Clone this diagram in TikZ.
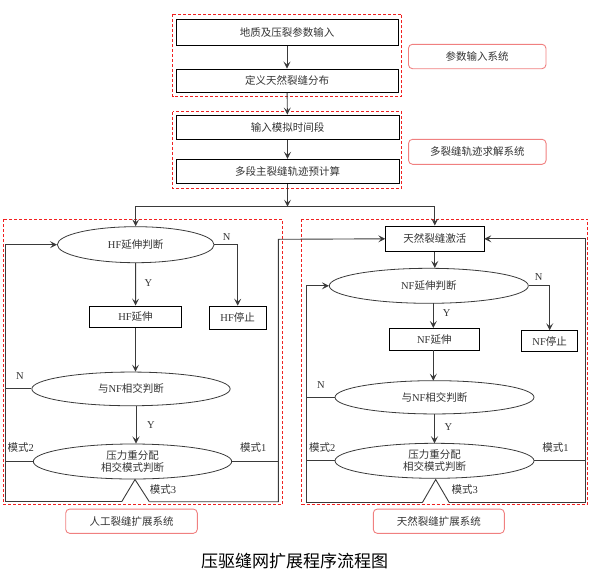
\documentclass[tikz,border=0pt]{standalone}
\usepackage{fontspec}
\setmainfont{Liberation Serif}
\newfontfamily\cjk{Noto Sans CJK SC}
\usetikzlibrary{arrows.meta,calc,shapes.geometric}
\definecolor{txt}{HTML}{333333}
\definecolor{ln}{HTML}{3A3A3A}
\definecolor{redd}{HTML}{F02020}
\definecolor{pinkb}{HTML}{F08080}
\tikzset{
  fnt/.style={font=\fontsize{10.5}{12.5}\selectfont},
  boxn/.style={draw=black, line width=1pt, rectangle, inner sep=0pt, text=txt, fnt},
  elln/.style={draw=ln, line width=0.8pt, ellipse, inner sep=0pt, text=txt, fnt, align=center},
  labn/.style={draw=pinkb, line width=0.9pt, rounded corners=4pt, rectangle, inner sep=0pt, text=txt, fnt},
  sysbox/.style={draw=redd, line width=0.9pt, dash pattern=on 3pt off 2pt},
  arr/.style={draw=ln, line width=0.9pt, -{Stealth[length=7pt,width=7pt,inset=3pt]}},
  ln/.style={draw=ln, line width=0.9pt},
  yn/.style={text=txt, fnt, inner sep=0pt}
}
\begin{document}
\begin{tikzpicture}[x=1pt,y=-1pt]
\useasboundingbox (0,0) rectangle (591,573);
% system frames
\draw[sysbox] (172.7,14) rectangle (401.7,96.7);
\draw[sysbox] (172.7,111.7) rectangle (401.7,188.3);
\draw[sysbox] (3.3,219.3) rectangle (282.7,504.3);
\draw[sysbox] (301.7,219.3) rectangle (587.7,504.3);
% top boxes
\node[boxn, minimum width=222pt, minimum height=26pt] (b1) at (287,32.3) {\cjk 地质及压裂参数输入};
\node[boxn, minimum width=222pt, minimum height=23.3pt] (b2) at (287,80.7) {\cjk 定义天然裂缝分布};
\node[boxn, minimum width=223pt, minimum height=24.3pt] (b3) at (287.5,127.2) {\cjk 输入模拟时间段};
\node[boxn, minimum width=223pt, minimum height=24pt] (b4) at (287.5,171.3) {\cjk 多段主裂缝轨迹预计算};
% label boxes
\node[labn, minimum width=137.5pt, minimum height=24.4pt] (l1) at (477.2,56.5) {\cjk 参数输入系统};
\node[labn, minimum width=137.5pt, minimum height=25pt] (l2) at (477.3,151.8) {\cjk 多裂缝轨迹求解系统};
\node[labn, minimum width=131.6pt, minimum height=24.3pt] (l3) at (131.5,521.2) {\cjk 人工裂缝扩展系统};
\node[labn, minimum width=131pt, minimum height=24.3pt] (l4) at (438.8,521.2) {\cjk 天然裂缝扩展系统};
% left system
\node[elln, minimum width=156.7pt, minimum height=36pt] (e1) at (135.7,244.7) {HF{\cjk 延伸判断}};
\node[boxn, line width=0.8pt, minimum width=92.4pt, minimum height=21.7pt] (hfe) at (135.5,316.8) {HF{\cjk 延伸}};
\node[boxn, line width=0.8pt, minimum width=56.7pt, minimum height=23.3pt] (hfs) at (237.7,317.7) {HF{\cjk 停止}};
\node[elln, minimum width=198.3pt, minimum height=33.7pt] (e2) at (131,388.9) {{\cjk 与}NF{\cjk 相交判断}};
\node[elln, minimum width=198.4pt, minimum height=35pt, font=\cjk\fontsize{10.5}{12.3}\selectfont] (e3) at (132.5,461.5) {压力重分配\\相交模式判断};
% right system
\node[boxn, line width=0.8pt, minimum width=98.3pt, minimum height=25.7pt] (na) at (434.8,238.8) {\cjk 天然裂缝激活};
\node[elln, minimum width=199pt, minimum height=35pt] (n1) at (428.8,285.8) {NF{\cjk 延伸判断}};
\node[boxn, line width=0.8pt, minimum width=90pt, minimum height=21.7pt] (nfe) at (434.3,339.2) {NF{\cjk 延伸}};
\node[boxn, line width=0.8pt, minimum width=56pt, minimum height=21pt] (nfs) at (549.7,341.2) {NF{\cjk 停止}};
\node[elln, minimum width=199pt, minimum height=33.3pt] (n2) at (434.5,397.3) {{\cjk 与}NF{\cjk 相交判断}};
\node[elln, minimum width=199pt, minimum height=35pt, font=\cjk\fontsize{10.5}{12.3}\selectfont] (n3) at (434.5,460.8) {压力重分配\\相交模式判断};
% caption
\node[text=black, font=\cjk\fontsize{17}{20}\selectfont, inner sep=0pt] (cap) at (294.7,561.5) {压驱缝网扩展程序流程图};
% top connectors
\draw[arr] (b1) -- (b2);
\draw[arr] (b2) -- (b3);
\draw[arr] (b3) -- (b4);
\coordinate (sp) at (287.5,206.7);
\draw[arr] (b4) -- (sp);
\draw[arr] (sp) -| (e1.north);
\draw[arr] (sp) -| (na.north);
% left system connectors
\draw[arr] (e1) -- (hfe);
\draw[arr] (e1.east) -| (hfs.north);
\draw[arr] (hfe.south) -- (hfe.south |- e2.north);
\draw[arr] (e2.south -| 136,0) -- (136,443.5);
\coordinate (lL) at (5,501.7);
\coordinate (lR) at (278.3,501.7);
\coordinate (tA) at (135,479.5);
\coordinate (tL) at (121.7,501.7);
\coordinate (tR) at (149.3,501.7);
\draw[ln] (tL) -- (tA) -- (tR);
\draw[arr] (tL) -- (lL) -- (lL |- e1.west) -- (e1.west);
\draw[arr] (tR) -- (lR) -- (278.3,239.3) -- (na.west);
\draw[ln] (e2.west) -- (e2.west -| lL);
\draw[ln] (e3.west) -- (e3.west -| lL);
\draw[ln] (e3.east) -- (e3.east -| lR);
% right system connectors
\draw[arr] (na.south) -- (na.south |- n1.north);
\draw[arr] (433.3,303.3) -- (nfe.north -| 433.3,0);
\draw[arr] (n1.east) -| (nfs.north);
\draw[arr] (nfe.south -| 433.3,0) -- (433.3,380.7);
\draw[arr] (434.5,414) -- (434.5,443.3);
\coordinate (rL) at (306,502.7);
\coordinate (rR) at (585,502.7);
\coordinate (sA) at (435.7,479.5);
\coordinate (sL) at (422.3,502.7);
\coordinate (sR) at (449.3,502.7);
\draw[ln] (sL) -- (sA) -- (sR);
\draw[arr] (sL) -- (rL) -- (rL |- n1.west) -- (n1.west);
\draw[arr] (sR) -- (rR) -- (rR |- na.east) -- (na.east);
\draw[ln] (n2.west) -- (n2.west -| rL);
\draw[ln] (n3.west) -- (n3.west -| rL);
\draw[ln] (n3.east) -- (n3.east -| rR);
% labels
\node[yn] (ln1) at (226.7,236.7) {N};
\node[yn] (ly1) at (148.3,282.7) {Y};
\node[yn] (ln2) at (20,376) {N};
\node[yn] (ly2) at (151,425) {Y};
\node[yn] (lm2) at (20.8,447.3) {{\cjk 模式}2};
\node[yn] (lm1) at (253.2,447.3) {{\cjk 模式}1};
\node[yn] (lm3) at (163,489.3) {{\cjk 模式}3};
\node[yn] (rn1) at (538.7,277.3) {N};
\node[yn] (ry1) at (446.7,313.3) {Y};
\node[yn] (rn2) at (321,385) {N};
\node[yn] (ry2) at (448.3,427.3) {Y};
\node[yn] (rm2) at (322.2,447.3) {{\cjk 模式}2};
\node[yn] (rm1) at (555.5,447.3) {{\cjk 模式}1};
\node[yn] (rm3) at (464.8,489.3) {{\cjk 模式}3};
\end{tikzpicture}
\end{document}
